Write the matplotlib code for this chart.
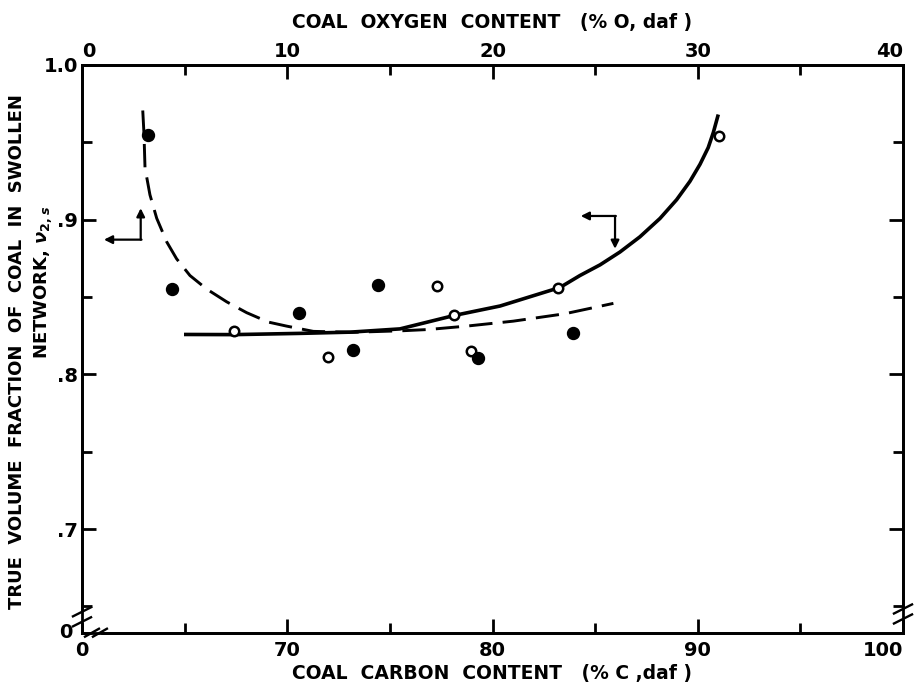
import matplotlib
matplotlib.use("Agg")
import matplotlib.pyplot as plt
from matplotlib.patches import Rectangle
from matplotlib.lines import Line2D

# Open circles: plotted against carbon content (bottom axis)
carbon_open = [67.42, 72.0, 77.28, 78.14, 78.94, 83.17, 91.05]
v_open = [0.828, 0.8114, 0.8571, 0.8381, 0.8148, 0.8557, 0.9538]

# Filled circles: plotted against oxygen content (top axis)
oxygen_filled = [3.23, 4.40, 10.56, 13.18, 14.42, 19.28, 23.94]
v_filled = [0.9549, 0.8551, 0.8399, 0.8157, 0.8575, 0.8109, 0.8268]

# Solid curve, carbon scale
carbon_curve = [64.97, 67.41, 70.62, 73.06, 75.49, 78.14, 80.37, 83.29,
                84.26, 85.24, 86.21, 87.18, 88.16, 88.97, 89.62, 90.11,
                90.51, 90.76, 91.0]
v_carbon_curve = [0.8258, 0.8257, 0.8265, 0.8273, 0.8294, 0.8381, 0.8442,
                  0.8562, 0.8639, 0.8708, 0.8791, 0.8889, 0.9008, 0.9129,
                  0.9248, 0.9358, 0.9466, 0.9564, 0.968]

# Dashed curve, oxygen scale
oxygen_curve = [2.96, 3.02, 3.07, 3.31, 3.64, 4.13, 4.61, 5.26, 6.08, 7.05,
                8.02, 9.08, 9.97, 11.27, 13.2, 15.6, 16.87, 18.74, 21.01,
                23.53, 25.89]
v_oxygen_curve = [0.9706, 0.9554, 0.9335, 0.9161, 0.9009, 0.8856, 0.8747,
                  0.8639, 0.8551, 0.8469, 0.8399, 0.8338, 0.8312, 0.8278,
                  0.8272, 0.8282, 0.829, 0.8312, 0.8344, 0.8392, 0.8459]

carbon_major = [60, 70, 80, 90, 100]
carbon_labels = ["0", "70", "80", "90", "100"]
carbon_minor = [65, 75, 85, 95]
oxygen_major = [0, 10, 20, 30, 40]
oxygen_labels = ["0", "10", "20", "30", "40"]
oxygen_minor = [5, 15, 25, 35]
v_major = [0.7, 0.8, 0.9, 1.0]
v_labels = [".7", ".8", ".9", "1.0"]
v_minor = [0.65, 0.75, 0.85, 0.95]

plt.rcParams['font.family'] = ['DejaVu Sans']
plt.rcParams['font.weight'] = 'bold'
plt.rcParams['axes.labelweight'] = 'bold'

W, H = 918, 688
fig = plt.figure(figsize=(W / 100, H / 100), dpi=100)
ax_left, ax_right, ax_top, ax_bot = 82, 903, 65, 632.7
ax = fig.add_axes([ax_left / W, 1 - ax_bot / H,
                   (ax_right - ax_left) / W, (ax_bot - ax_top) / H])
ax.set_xlim(60, 100)
ax.set_ylim(0.633, 1.0)

axt = ax.twiny()
axt.set_xlim(0, 40)

for a in (ax, axt):
    for s in a.spines.values():
        s.set_linewidth(2.0)

ax.set_xticks(carbon_major)
ax.set_xticklabels(carbon_labels)
ax.set_xticks(carbon_minor, minor=True)
ax.set_yticks(v_major)
ax.set_yticklabels(v_labels)
ax.set_yticks(v_minor, minor=True)
ax.tick_params(which='both', direction='in', width=2.0, labelsize=14,
               left=True, right=True, bottom=True, top=False, pad=3)
ax.tick_params(which='major', length=10)
ax.tick_params(which='minor', length=7)
ax.tick_params(axis='x', pad=6)
# keep the last bottom label inside the canvas
lbl100 = ax.get_xticklabels()[-1]
lbl100.set_horizontalalignment('right')

axt.set_xticks(oxygen_major)
axt.set_xticklabels(oxygen_labels)
axt.set_xticks(oxygen_minor, minor=True)
axt.tick_params(which='both', direction='in', width=2.0, labelsize=14, pad=3)
axt.tick_params(which='major', length=10)
axt.tick_params(which='minor', length=7)
tl = axt.get_xticklabels()
tl[0].set_horizontalalignment('left')
tl[-1].set_horizontalalignment('right')

ax.text(-0.012, 0.0, "0", transform=ax.transAxes, ha='right', va='center',
        fontsize=14)

ax.set_xlabel("COAL  CARBON  CONTENT   (% C ,daf )", fontsize=13.5,
              labelpad=3)
axt.set_xlabel("COAL  OXYGEN  CONTENT   (% O, daf )", fontsize=13.5,
               labelpad=10)
fig.text(17 / W, 1 - 352 / H,
         "TRUE  VOLUME  FRACTION  OF  COAL  IN  SWOLLEN",
         rotation=90, ha='center', va='center', fontsize=13)
fig.text(43 / W, 1 - 282 / H, r"NETWORK, $\nu_{2,s}$",
         rotation=90, ha='center', va='center', fontsize=13)

# curves
ax.plot(carbon_curve, v_carbon_curve, color='k', lw=2.6,
        solid_capstyle='butt', solid_joinstyle='round', zorder=3)
axt.plot(oxygen_curve, v_oxygen_curve, color='k', lw=2.1,
         dashes=(8, 3.5), zorder=3)

# data points
axt.plot(oxygen_filled, v_filled, 'o', color='k', ms=8.6, zorder=4)
ax.plot(carbon_open, v_open, 'o', mfc='white', mec='k', mew=1.8, ms=6.8,
        zorder=5)

# axis pointers
arrow_kw = dict(arrowstyle='-|>', lw=1.6, color='k', mutation_scale=12,
                shrinkA=0, shrinkB=0)
ax.annotate("", xy=(62.86, 0.9074), xytext=(62.86, 0.8871), arrowprops=arrow_kw)
ax.annotate("", xy=(61.07, 0.8871), xytext=(62.86 + 0.04, 0.8871), arrowprops=arrow_kw)
ax.annotate("", xy=(84.30, 0.9024), xytext=(85.97 + 0.04, 0.9024), arrowprops=arrow_kw)
ax.annotate("", xy=(85.97, 0.8812), xytext=(85.97, 0.9024), arrowprops=arrow_kw)

# scale-break symbols
def vbreak(x, y, gap=0.0176, dx=0.011, dy=0.008):
    ax.add_patch(Rectangle((x - 0.006, y - gap / 2), 0.012, gap,
                           transform=ax.transAxes, color='white',
                           clip_on=False, zorder=10))
    for off in (-gap / 2, gap / 2):
        ax.add_line(Line2D([x - dx, x + dx], [y + off - dy, y + off + dy],
                           transform=ax.transAxes, color='k', lw=1.7,
                           clip_on=False, zorder=11))

def hbreak(x, y, gap=0.0097, dx=0.0085, dy=0.007):
    ax.add_patch(Rectangle((x - gap / 2, y - 0.008), gap, 0.016,
                           transform=ax.transAxes, color='white',
                           clip_on=False, zorder=10))
    for off in (-gap / 2, gap / 2):
        ax.add_line(Line2D([x + off - dx, x + off + dx], [y - dy, y + dy],
                           transform=ax.transAxes, color='k', lw=1.7,
                           clip_on=False, zorder=11))

vbreak(0.0, 0.028)
hbreak(0.017, 0.0)
vbreak(1.0, 0.033)

fig.savefig("out.png", dpi=100)
